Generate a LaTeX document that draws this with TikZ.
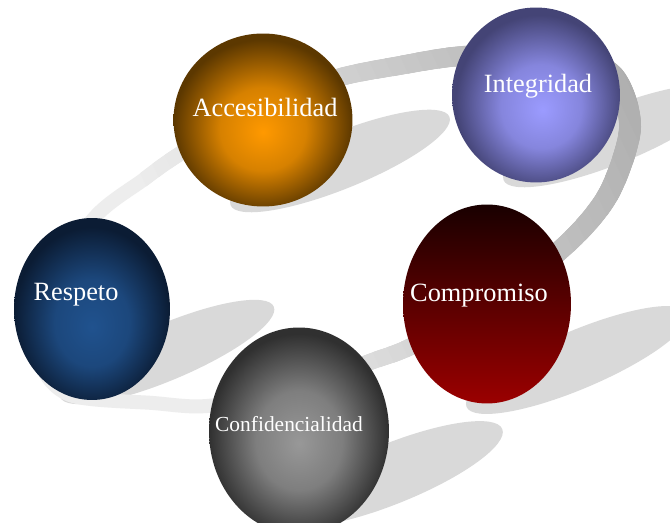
\documentclass[tikz,border=0pt]{standalone}
\usepackage{fontspec}
\setmainfont{Liberation Serif}
\usepackage{tikz}
\usetikzlibrary{shapes.geometric}
\definecolor{accin}{RGB}{255,153,0}
\definecolor{accout}{RGB}{92,56,0}
\definecolor{integin}{RGB}{155,155,255}
\definecolor{integout}{RGB}{68,68,118}
\definecolor{respin}{RGB}{32,82,142}
\definecolor{respout}{RGB}{11,28,52}
\definecolor{confin}{RGB}{152,152,152}
\definecolor{confout}{RGB}{48,48,48}
\definecolor{comptop}{RGB}{25,0,0}
\definecolor{compbot}{RGB}{155,0,0}
\definecolor{shadowgray}{RGB}{217,217,217}
\pgfdeclareradialshading{accshade}{\pgfpoint{0bp}{-3.5bp}}{color(0bp)=(accin); color(12bp)=(accin!75!accout); color(25bp)=(accout); color(50bp)=(accout)}
\pgfdeclareradialshading{integshade}{\pgfpoint{2bp}{-4.3bp}}{color(0bp)=(integin); color(12bp)=(integin!75!integout); color(25bp)=(integout); color(50bp)=(integout)}
\pgfdeclareradialshading{respshade}{\pgfpoint{0bp}{-5bp}}{color(0bp)=(respin); color(12bp)=(respin!80!respout); color(25bp)=(respout); color(50bp)=(respout)}
\pgfdeclareradialshading{confshade}{\pgfpoint{0bp}{-3bp}}{color(0bp)=(confin); color(12bp)=(confin!75!confout); color(25bp)=(confout); color(50bp)=(confout)}
\tikzset{
	ball/.style={ellipse, inner sep=0pt, draw=none, shade},
	shadowfill/.style={fill=shadowgray},
	ballname/.style={text=white, inner sep=0pt, anchor=base, font=\fontsize{15}{18}\selectfont}
}
\begin{document}
\begin{tikzpicture}[x=0.02cm, y=0.02cm]
	\useasboundingbox (0,0) rectangle (670,523);
	\clip (0,0) rectangle (670,523);
	\fill[white] (0,0) rectangle (670,523);

	% shadows
	\foreach \shx/\shy/\sha/\shb/\sang in {340/362/118/28/22, 613/387/118/28/22, 167/171/116/28/23, 577/163/120/29/23, 391/49/120/30/22}
		\fill[shadowfill, rotate around={\sang:(\shx,\shy)}] (\shx,\shy) ellipse [x radius=\sha, y radius=\shb];

	% ring, lighter to the lower left
	\foreach \k in {0,...,34} {
		\pgfmathsetmacro\ulo{\k==0 ? -1000 : 260+15*\k}
		\pgfmathsetmacro\gq{7+0.75*\k}
		\pgfmathsetmacro\wd{0.02*(14+0.25*\k)}
		\begin{scope}
			\clip[rotate=25] (\ulo,-1000) rectangle (1500,1000);
			\draw[line width=\wd cm, black!\gq] plot[smooth cycle] coordinates {
				(70,128) (153,120) (207,117) (290,131) (370,161) (410,176) (490,218)
				(568,280) (609,330) (630,396) (612,448) (560,468) (463,467) (397,457)
				(337,445) (260,418) (178,368) (143,343) (95,306) (45,233) (40,163)};
		\end{scope}
	}

	% balls
	\node[ball, shading=accshade, minimum width=3.58cm, minimum height=3.46cm] (acc) at (263,403) {};
	\node[ball, shading=integshade, minimum width=3.36cm, minimum height=3.50cm] (integ) at (536,428) {};
	\node[ball, shading=respshade, minimum width=3.12cm, minimum height=3.64cm] (resp) at (92,214) {};
	\node[ball, top color=comptop, bottom color=compbot, minimum width=3.36cm, minimum height=3.98cm] (comp) at (487,219) {};
	\node[ball, shading=confshade, minimum width=3.60cm, minimum height=4.14cm] (conf) at (299,92) {};

	\node[ballname] (acc-name) at (265,406) {Accesibilidad};
	\node[ballname] (integ-name) at (538,430) {Integridad};
	\node[ballname] (resp-name) at (76,222) {Respeto};
	\node[ballname] (comp-name) at (479,221) {Compromiso};
	\node[ballname, font=\fontsize{12.2}{14}\selectfont] (conf-name) at (289,91) {Confidencialidad};
\end{tikzpicture}
\end{document}
